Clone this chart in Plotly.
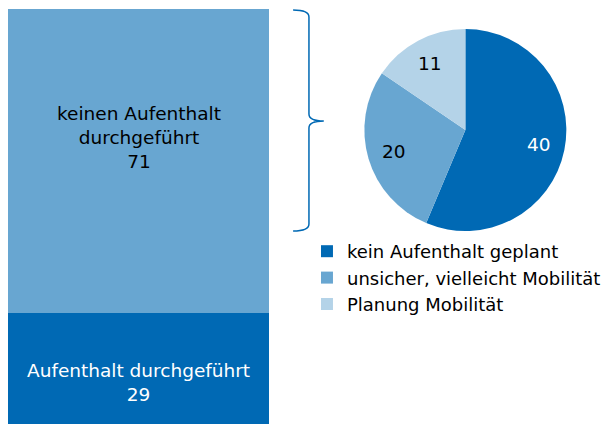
import math
import plotly.graph_objects as go

# left bar: all respondents
bar_labels = ['Aufenthalt durchgeführt', 'keinen Aufenthalt<br>durchgeführt']
bar_values = [29, 71]
bar_colors = ['#0069B4', '#68A6D1']
bar_text_colors = ['white', 'black']

# pie: split of the 71 without stay
pie_labels = ['kein Aufenthalt geplant', 'unsicher, vielleicht Mobilität', 'Planung Mobilität']
pie_values = [40, 20, 11]
pie_colors = ['#0069B4', '#68A6D1', '#B4D3E8']
pie_text_colors = ['white', 'black', 'black']

# page body adds an 8px margin on every side; keep the page at exactly 614x432
OFF = 8
W, H = 614 - 2 * OFF, 432 - 2 * OFF
FONT = "'DejaVu Sans', sans-serif"
FS = 18.5


def px(x, y):
    # reference pixel -> paper coords
    return (x - OFF) / W, 1 - (y - OFF) / H


fig = go.Figure()

for lab, val, col in zip(bar_labels, bar_values, bar_colors):
    fig.add_trace(go.Bar(
        x=['all'], y=[val], name=lab.replace('<br>', ' '),
        marker=dict(color=col, line=dict(width=0)),
        showlegend=False, hoverinfo='skip',
        xaxis='x', yaxis='y'))

# pie box in reference pixels
PCX, PCY, PR = 470, 130, 102
x0, y1 = px(PCX - PR, PCY - PR)
x1, y0 = px(PCX + PR, PCY + PR)
fig.add_trace(go.Pie(
    labels=pie_labels, values=pie_values,
    marker=dict(colors=pie_colors, line=dict(width=0)),
    sort=False, direction='clockwise', rotation=0,
    textinfo='none', hoverinfo='label+value',
    domain=dict(x=[x0, x1], y=[y0, y1]),
    showlegend=True))

annotations = []

# pie value labels along each slice's mid angle
total = sum(pie_values)
cum = 0
for val, tc in zip(pie_values, pie_text_colors):
    ang = 2 * math.pi * (cum + val / 2) / total
    cum += val
    lx_, ly_ = px(PCX + 0.74 * PR * math.sin(ang), PCY - 0.74 * PR * math.cos(ang))
    annotations.append(dict(
        x=lx_, y=ly_, xref='paper', yref='paper', text=str(val),
        xanchor='center', yanchor='middle',
        showarrow=False, font=dict(size=FS, color=tc, family=FONT)))

# bar labels
base = 0
shifts = [-8, 23]
for lab, val, tc, sh in zip(bar_labels, bar_values, bar_text_colors, shifts):
    annotations.append(dict(
        x='all', y=base + val / 2, xref='x', yref='y',
        text=lab + '<br>' + str(val), showarrow=False,
        yshift=sh, font=dict(size=FS, color=tc, family=FONT)))
    base += val

# curly brace
pts = [(296, 10), (312, 10), (312, 17), (312, 114), (312, 121), (327, 121),
       (312, 121), (312, 128), (312, 224), (312, 231), (296, 231)]
p = [px(*q) for q in pts]
path = ('M {0[0]},{0[1]} Q {1[0]},{1[1]} {2[0]},{2[1]} L {3[0]},{3[1]} '
        'Q {4[0]},{4[1]} {5[0]},{5[1]} Q {6[0]},{6[1]} {7[0]},{7[1]} '
        'L {8[0]},{8[1]} Q {9[0]},{9[1]} {10[0]},{10[1]}').format(*p)

shapes = [dict(type='path', path=path, xref='paper', yref='paper',
               line=dict(color='#0069B4', width=1.5))]

# 0 sits a few px below the picture, 100 at y=9px
scale = 428 / 100
y_lo = (437 - (432 - OFF)) / scale
y_hi = 100 + (9 - OFF) / scale

bx0, _ = px(8, 0)
bx1, _ = px(272, 0)
lx, ly = px(310, 233)

fig.update_layout(
    width=W, height=H,
    margin=dict(l=0, r=0, t=0, b=0),
    paper_bgcolor='white', plot_bgcolor='white',
    barmode='stack', bargap=0,
    xaxis=dict(domain=[bx0, bx1], visible=False, fixedrange=True),
    yaxis=dict(range=[y_lo, y_hi], visible=False, fixedrange=True),
    font=dict(family=FONT, size=FS, color='black'),
    legend=dict(x=lx, y=ly, xanchor='left', yanchor='top',
                traceorder='normal',
                font=dict(size=18, family=FONT), tracegroupgap=0,
                bgcolor='rgba(0,0,0,0)'),
    annotations=annotations,
    shapes=shapes,
)

fig.write_html("out.html")
